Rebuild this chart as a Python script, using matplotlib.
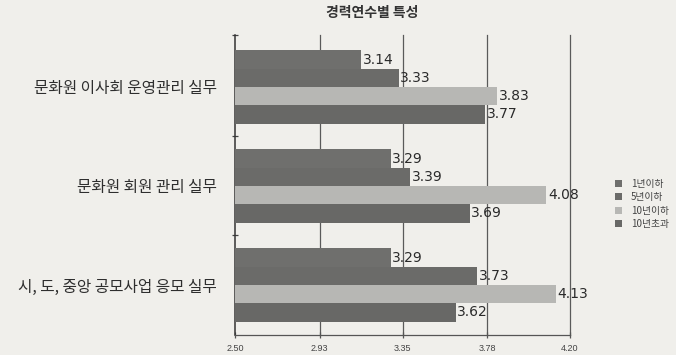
import matplotlib
matplotlib.use("Agg")
import matplotlib.pyplot as plt
import numpy as np

categories = ["문화원 이사회 운영관리 실무", "문화원 회원 관리 실무", "시, 도, 중앙 공모사업 응모 실무"]
series_names = ["1년이하", "5년이하", "10년이하", "10년초과"]
values_1y = [3.14, 3.29, 3.29]
values_5y = [3.33, 3.39, 3.73]
values_10y = [3.83, 4.08, 4.13]
values_over10 = [3.77, 3.69, 3.62]
x_ticks = [2.50, 2.93, 3.35, 3.78, 4.20]
x_tick_labels = ["2.50", "2.93", "3.35", "3.78", "4.20"]
title = "경력연수별 특성"

series = [values_1y, values_5y, values_10y, values_over10]
colors = ["#6f6f6d", "#6b6b69", "#b7b7b4", "#686866"]
bg = "#f0efeb"

plt.rcParams["font.family"] = ["Noto Sans CJK KR", "DejaVu Sans"]

fig = plt.figure(figsize=(6.76, 3.55), dpi=100, facecolor=bg)
ax = fig.add_axes([235 / 676, 20 / 355, 335 / 676, 300 / 355])
ax.set_facecolor(bg)

ypos = np.arange(len(categories))
h = 0.185
base = 2.50
for i, (vals, col) in enumerate(zip(series, colors)):
    yy = ypos + (i - 1.5) * h
    widths = np.array(vals) - base
    ax.barh(yy, widths, left=base, height=h, color=col, edgecolor="none",
            label=series_names[i], zorder=3)
    for y, v in zip(yy, vals):
        ax.text(v + 0.008, y, f"{v:.2f}", va="center", ha="left",
                fontsize=10, color="#2a2a2a", family=["DejaVu Sans"], zorder=4)

ax.set_xlim(2.50, 4.20)
ax.set_ylim(2.505, -0.525)
ax.set_xticks(x_ticks)
ax.set_xticklabels(x_tick_labels, fontsize=6.5, color="#444444",
                   family=["Liberation Sans"])
ax.tick_params(axis="x", direction="inout", length=5, width=0.9, color="#555555", pad=4)

ax.set_yticks(ypos)
ax.set_yticklabels(categories, fontsize=11.3, color="#2e2e2e")
ax.tick_params(axis="y", length=0, pad=13)
ax.set_yticks([0.5, 1.5, -0.525], minor=True)
ax.tick_params(axis="y", which="minor", direction="inout", length=5, width=0.9, color="#444444")

for xv in x_ticks[1:]:
    ax.axvline(xv, color="#5a5a5a", lw=0.9, zorder=1, clip_on=False)

for s in ["top", "right"]:
    ax.spines[s].set_visible(False)
ax.spines["left"].set_color("#333333")
ax.spines["left"].set_linewidth(1.1)
ax.spines["bottom"].set_color("#555555")
ax.spines["bottom"].set_linewidth(0.9)

fig.text(372 / 676, 1 - 13 / 355, title, ha="center", va="center",
         fontsize=10, fontweight="bold", color="#333333")

leg = ax.legend(loc="center left", bbox_to_anchor=(610 / 676, 1 - 204 / 355),
                bbox_transform=fig.transFigure, frameon=False, fontsize=7,
                handlelength=0.75, handleheight=0.75, handletextpad=0.9,
                labelspacing=0.35, borderpad=0)
for t in leg.get_texts():
    t.set_color("#444444")

fig.savefig("out.png", dpi=100, facecolor=bg)
